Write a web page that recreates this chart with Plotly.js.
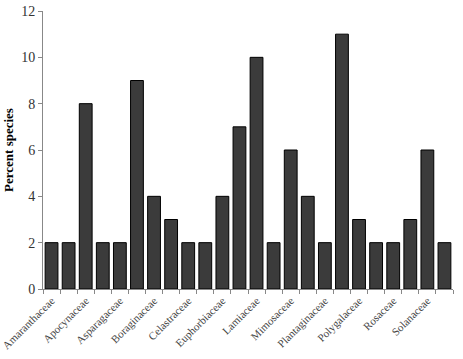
<!DOCTYPE html>
<html><head><meta charset="utf-8">
<script src="https://cdn.plot.ly/plotly-3.0.1.min.js"></script>
<style>html,body{margin:0;padding:0;background:#fff}#c{width:463px;height:359px}</style>
</head><body><div id="c"></div>
<script>
// Percent species per family (24 families; every other one labelled on the axis)
const values = [2, 2, 8, 2, 2, 9, 4, 3, 2, 2, 4, 7, 10, 2, 6, 4, 2, 11, 3, 2, 2, 3, 6, 2];
const labelledFamilies = ["Amaranthaceae", "Apocynaceae", "Asparagaceae", "Boraginaceae", "Celastraceae", "Euphorbiaceae", "Lamiaceae", "Mimosaceae", "Plantaginaceae", "Polygalaceae", "Rosaceae", "Solanaceae"];
const yTicks = [0, 2, 4, 6, 8, 10, 12];

const xIdx = values.map((_, i) => i);
const labelPos = labelledFamilies.map((_, i) => i * 2);

const font = "Liberation Serif";
Plotly.newPlot("c", [{
  type: "bar", x: xIdx, y: values,
  marker: {color: "#3b3b3b", line: {color: "#000", width: 1}},
  hoverinfo: "none"
}], {
  width: 463, height: 359,
  margin: {l: 43, r: 10, t: 11, b: 70},
  bargap: 0.25,
  showlegend: false,
  paper_bgcolor: "#fff", plot_bgcolor: "#fff",
  xaxis: {
    range: [-0.5, values.length - 0.5],
    tickvals: labelPos, ticktext: labelledFamilies,
    tickangle: -45, ticks: "", ticklabeloverflow: "allow",
    tickfont: {family: font, size: 11, color: "#444"},
    showline: true, linecolor: "#888", linewidth: 1,
    showgrid: false, zeroline: false, automargin: false,
    minor: {tick0: -0.5, dtick: 1, ticks: "outside", ticklen: 4, tickcolor: "#888", showgrid: false}
  },
  yaxis: {
    range: [0, 12], tickvals: yTicks,
    ticks: "outside", ticklen: 4, tickcolor: "#888",
    tickfont: {family: font, size: 14, color: "#333"},
    showline: true, linecolor: "#888", linewidth: 1,
    showgrid: false, zeroline: false, automargin: false,
    title: {text: "<b>Percent species</b>", font: {family: font, size: 13, color: "#000"}, standoff: 4}
  }
}, {staticPlot: true});
</script></body></html>
